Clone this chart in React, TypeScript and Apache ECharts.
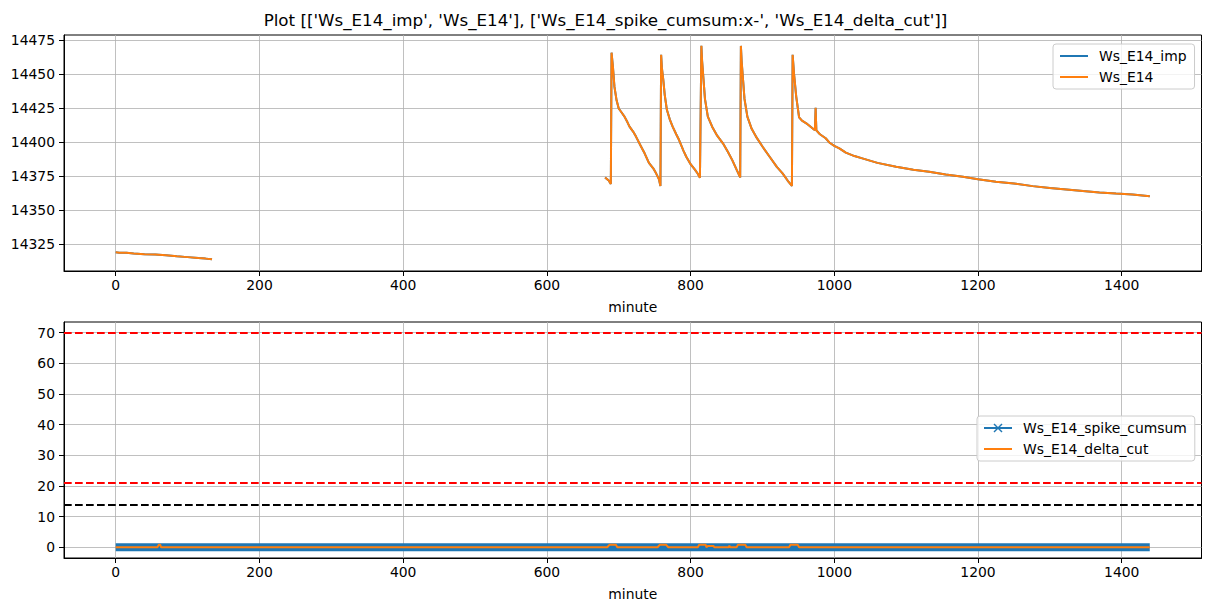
import React, { useEffect, useRef } from "react";
import * as echarts from "echarts";

const FONT = "DejaVu Sans";
const TITLE = "Plot [['Ws_E14_imp', 'Ws_E14'], ['Ws_E14_spike_cumsum:x-', 'Ws_E14_delta_cut']]";

const X_TICKS = [0, 200, 400, 600, 800, 1000, 1200, 1400];
const TOP_Y_TICKS = [14325, 14350, 14375, 14400, 14425, 14450, 14475];
const BOT_Y_TICKS = [0, 10, 20, 30, 40, 50, 60, 70];

// Ws_E14 — first segment (minutes 0..134)
const WS_E14_SEG1: [number, number][] = [
  [0, 14319.3], [5, 14319.0], [15, 14318.9], [25, 14318.4], [40, 14317.9], [55, 14317.6],
  [70, 14317.0], [85, 14316.3], [100, 14315.7], [115, 14315.0], [125, 14314.6], [134, 14314.2],
];
// Ws_E14 — second segment (minutes 681..1439)
const WS_E14_SEG2: [number, number][] = [
  [681, 14374.3], [686, 14372], [689, 14369.4], [690, 14466], [692, 14455], [694, 14441], [697, 14431],
  [700, 14425], [704, 14422], [708, 14419], [712, 14415], [715, 14411.6], [720, 14408], [724, 14404.3],
  [731, 14397], [736, 14392], [742, 14385], [748, 14381], [752, 14377.3], [756, 14373], [758, 14368],
  [759, 14464.5], [760, 14455], [762, 14446], [764, 14435], [767, 14424], [771, 14417], [775, 14411.6],
  [780, 14406], [784, 14401.8], [790, 14394], [794, 14389.5], [800, 14384], [806, 14380], [810, 14377],
  [813, 14374], [815, 14471], [816, 14460], [818, 14446], [820, 14432], [824, 14419], [830, 14411.6],
  [837, 14405], [845, 14399.4], [852, 14393], [858, 14387], [864, 14380], [869, 14374.3], [870, 14471],
  [871, 14460], [873, 14446], [875, 14432], [879, 14419], [885, 14410], [891, 14404.3], [900, 14397],
  [910, 14389.5], [920, 14382], [928, 14377.3], [935, 14372], [941, 14368], [942, 14464.5], [944, 14450],
  [947, 14433.7], [951, 14418.5], [955, 14416], [961, 14414.1], [967, 14411.5], [973, 14409], [974, 14425.5],
  [975, 14409], [980, 14406], [988, 14403.1], [993, 14400], [1000, 14397.5], [1007, 14395.7], [1016, 14392.5],
  [1028, 14390], [1039, 14388.3], [1060, 14385], [1086, 14382.1], [1110, 14380], [1132, 14378.5],
  [1155, 14376.5], [1179, 14374.8], [1200, 14373], [1225, 14371.1], [1250, 14369.8], [1276, 14367.9],
  [1300, 14366.6], [1323, 14365.5], [1346, 14364.3], [1369, 14363.3], [1392, 14362.5], [1415, 14361.8],
  [1439, 14360.5],
];
const GAP_MINUTE = 400;

const SPIKE_CUMSUM: [number, number][] = [[0, 0], [1439, 0]];
const DELTA_CUT: [number, number][] = [
  [0, 0], [58, 0], [60, 0.8], [62, 0.8], [63, 0],
  [684, 0], [687, 0.8], [696, 0.8], [698, 0],
  [754, 0], [757, 0.8], [766, 0.8], [769, 0],
  [810, 0], [812, 0.8], [821, 0.8], [822, 0], [824, 0.4], [832, 0.4], [833, 0],
  [853, 0], [854, 0.5], [855, 0],
  [864, 0], [866, 0.8], [876, 0.8], [878, 0],
  [937, 0], [939, 0.8], [949, 0.8], [951, 0],
  [1439, 0],
];
const RED_HLINES = [70, 21];
const BLACK_HLINES = [14];

const BLUE = "#1f77b4";
const ORANGE = "#ff7f0e";

const LINE_ICON = "path://M0,0L28,0L28,0.05L0,0.05Z M0,4L28,4L28,6L0,6Z M0,9.95L28,9.95L28,10L0,10Z";
const X_ICON =
  "path://M0,4L28,4L28,6L0,6Z M9.5,1.5L10.5,0.5L18.5,8.5L17.5,9.5Z M17.5,0.5L18.5,1.5L10.5,9.5L9.5,8.5Z";

export default function App() {
  const ref = useRef<HTMLDivElement>(null);
  useEffect(() => {
    if (!ref.current) return;
    const chart = echarts.init(ref.current, null, { renderer: "svg" });
    const ws = [...WS_E14_SEG1, [GAP_MINUTE, "-"], ...WS_E14_SEG2];
    const textBase = { fontFamily: FONT, fontSize: 13.9, color: "#000" };
    const fmt = (v: number) => String(v);
    const xAxis = (gi: number) => ({
      type: "value",
      gridIndex: gi,
      min: -72,
      max: 1511,
      axisLine: { show: true, onZero: false, lineStyle: { color: "#000", width: 1 } },
      axisTick: { show: true, length: 5, lineStyle: { color: "#000", width: 1 }, customValues: X_TICKS },
      axisLabel: { ...textBase, margin: 7, customValues: X_TICKS, formatter: fmt },
      splitLine: { show: true, lineStyle: { color: "#b0b0b0", width: 0.8 } },
      name: "minute",
      nameLocation: "middle",
      nameGap: 29,
      nameTextStyle: { ...textBase },
    });
    const yAxis = (gi: number, min: number, max: number, ticks: number[]) => ({
      type: "value",
      gridIndex: gi,
      min,
      max,
      axisLine: { show: true, onZero: false, lineStyle: { color: "#000", width: 1 } },
      axisTick: { show: true, length: 5, lineStyle: { color: "#000", width: 1 }, customValues: ticks },
      axisLabel: { ...textBase, margin: 9, customValues: ticks, formatter: fmt },
      splitLine: { show: true, lineStyle: { color: "#b0b0b0", width: 0.8 } },
    });
    const legendBase = {
      orient: "vertical",
      itemWidth: 28,
      itemHeight: 14,
      itemGap: 7,
      padding: [5, 8, 5, 7],
      backgroundColor: "rgba(255,255,255,0.8)",
      borderColor: "#cccccc",
      borderWidth: 1,
      borderRadius: 3,
      textStyle: { ...textBase, padding: [0, 0, 0, 6] },
    };
    const hline = (v: number, color: string) => ({
      yAxis: v,
      lineStyle: { color, type: [7.7, 3.3], width: 2 },
    });
    chart.setOption({
      animation: false,
      backgroundColor: "#fff",
      title: {
        text: TITLE,
        left: "center",
        top: 6,
        textStyle: { fontFamily: FONT, fontSize: 16.7, fontWeight: "normal", color: "#000" },
      },
      grid: [
        { left: 64, top: 35, width: 1137.5, height: 236, show: true, borderColor: "#000", borderWidth: 1 },
        { left: 64, top: 322, width: 1137.5, height: 236, show: true, borderColor: "#000", borderWidth: 1 },
      ],
      xAxis: [xAxis(0), xAxis(1)],
      yAxis: [yAxis(0, 14305.5, 14479, TOP_Y_TICKS), yAxis(1, -3.5, 73.5, BOT_Y_TICKS)],
      legend: [
        {
          ...legendBase,
          left: 1053,
          top: 44,
          data: [
            { name: "Ws_E14_imp", icon: LINE_ICON },
            { name: "Ws_E14", icon: LINE_ICON },
          ],
        },
        {
          ...legendBase,
          left: 977,
          top: 416,
          data: [
            { name: "Ws_E14_spike_cumsum", icon: X_ICON },
            { name: "Ws_E14_delta_cut", icon: LINE_ICON },
          ],
        },
      ],
      series: [
        {
          name: "Ws_E14_imp",
          type: "line",
          xAxisIndex: 0,
          yAxisIndex: 0,
          data: ws,
          symbol: "none",
          connectNulls: false,
          color: BLUE,
          lineStyle: { color: BLUE, width: 2 },
        },
        {
          name: "Ws_E14",
          type: "line",
          xAxisIndex: 0,
          yAxisIndex: 0,
          data: ws,
          symbol: "none",
          connectNulls: false,
          color: ORANGE,
          lineStyle: { color: ORANGE, width: 2 },
        },
        {
          name: "Ws_E14_spike_cumsum",
          type: "line",
          xAxisIndex: 1,
          yAxisIndex: 1,
          data: SPIKE_CUMSUM,
          symbol: "none",
          color: BLUE,
          lineStyle: { color: BLUE, width: 8, cap: "butt" },
        },
        {
          name: "Ws_E14_delta_cut",
          type: "line",
          xAxisIndex: 1,
          yAxisIndex: 1,
          data: DELTA_CUT,
          symbol: "none",
          color: ORANGE,
          lineStyle: { color: ORANGE, width: 2 },
          markLine: {
            silent: true,
            symbol: "none",
            label: { show: false },
            data: [
              ...RED_HLINES.map((v) => hline(v, "#ff0000")),
              ...BLACK_HLINES.map((v) => hline(v, "#000000")),
            ],
          },
        },
      ],
    });
    return () => chart.dispose();
  }, []);
  return (
    <div
      ref={ref}
      style={{ position: "fixed", left: 0, top: 0, width: 1211, height: 611, background: "#fff" }}
    />
  );
}
